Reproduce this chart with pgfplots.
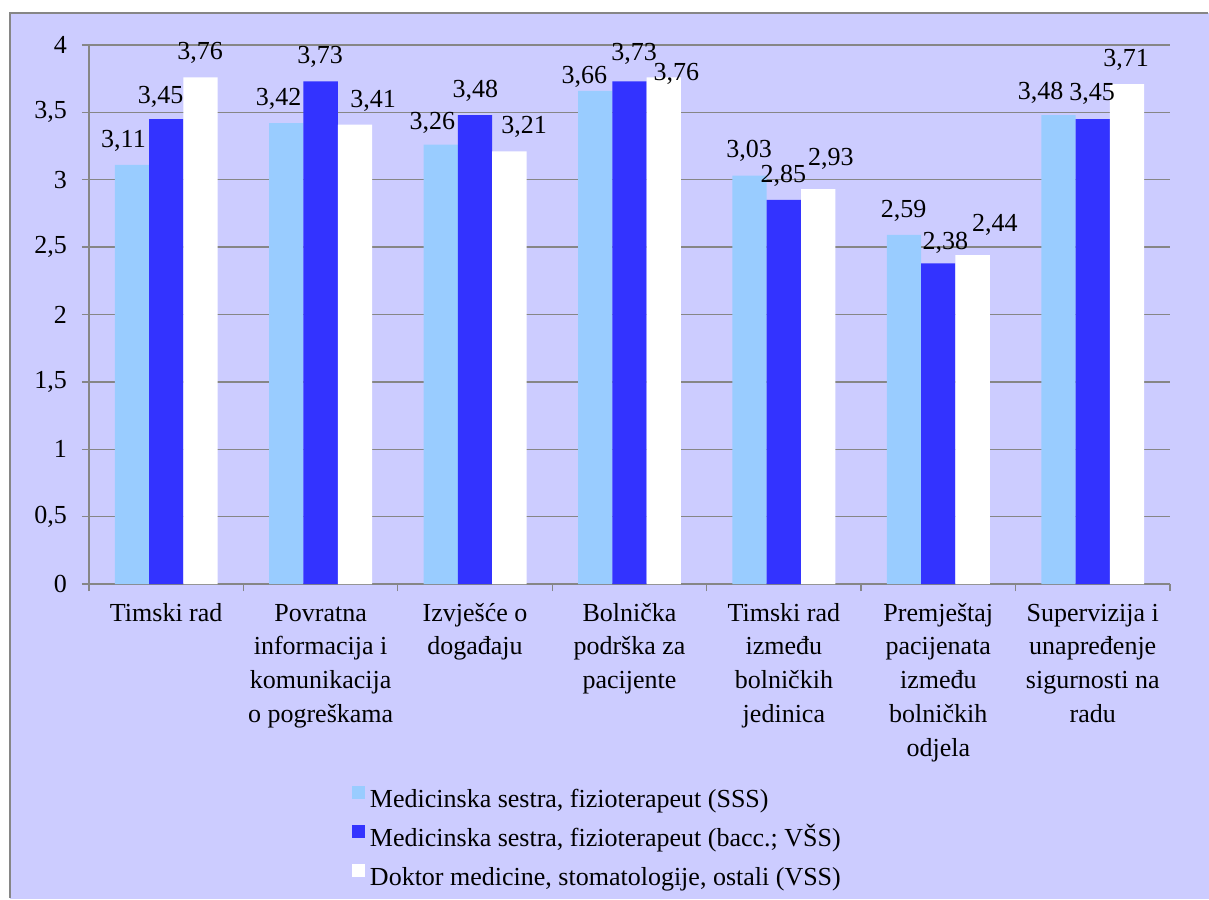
\documentclass[border=0pt]{standalone}
\usepackage{fontspec}
\setmainfont{Liberation Serif}
\usepackage{pgfplots}
\usepackage{pgfplotstable}
\pgfplotsset{compat=1.18}
\definecolor{bgc}{HTML}{CCCCFF}
\definecolor{gc}{HTML}{868686}
\definecolor{sA}{HTML}{99CCFF}
\definecolor{sB}{HTML}{3333FF}
\newcommand\lf{\fontsize{26}{33.8}\selectfont}

\pgfplotstableread{
x y dx dy lab
0 3.11 -8.4 17.9 3,11
1 3.42 -7.8 17.2 3,42
2 3.26 -8.3 15.4 3,26
3 3.66 -10.8 7.5 3,66
4 3.03 -0.4 18.4 3,03
5 2.59 -0.3 17.7 2,59
6 3.48 -17.8 15.1 3,48
}\tA
\pgfplotstableread{
x y dx dy lab
0 3.45 -5.7 15.8 3,45
1 3.73 -0.6 18.1 3,73
2 3.48 0.4 17.8 3,48
3 3.73 4.7 20.7 3,73
4 2.85 -0.4 17.3 2,85
5 2.38 7.1 13.3 2,38
6 3.45 -0.6 19.1 3,45
}\tB
\pgfplotstableread{
x y dx dy lab
0 3.76 -0.5 17.4 3,76
1 3.41 18.1 17.2 3,41
2 3.21 14.8 18.1 3,21
3 3.76 12.5 -3.3 3,76
4 2.93 12.6 23.2 2,93
5 2.44 22.3 23.5 2,44
6 3.71 -0.9 17.4 3,71
}\tC

\begin{document}
\begin{tikzpicture}
\fill[white] (-89pt,584pt) rectangle (1120pt,-315pt);
\fill[bgc] (-79pt,571pt) rectangle (1120pt,-315pt);
\draw[gc, line width=1.3pt] (-79pt,-314pt) -- (-79pt,571pt) -- (1119pt,571pt);
\begin{axis}[
  at={(0pt,0pt)}, anchor=south west,
  width=1081pt, height=539pt, scale only axis,
  xmin=-0.5, xmax=6.5, ymin=0, ymax=4,
  clip=false,
  axis x line*=bottom, axis y line*=left,
  axis line style={gc, line width=1.3pt},
  ybar=0pt, bar width=34.3pt,
  ymajorgrids,
  grid style={gc, line width=1.3pt},
  tick style={gc, line width=1.3pt},
  tick align=outside,
  major tick length=7pt, minor tick length=7pt,
  xtick={0,...,6},
  minor xtick={-0.5,0.5,...,6.5},
  major x tick style={draw=none},
  ytick={0,0.5,...,4},
  yticklabels={0,{0,5},1,{1,5},2,{2,5},3,{3,5},4},
  /pgf/number format/assume math mode=true,
  ticklabel style={font=\lf},
  yticklabel style={anchor=east, inner sep=0pt, xshift=-15pt},
  xticklabel style={align=center, anchor=north, inner sep=0pt, yshift=-6.3pt},
  xticklabels={
    {\strut Timski rad},
    {\strut Povratna\\informacija i\\komunikacija\\o pogreškama},
    {\strut Izvješće o\\događaju},
    {\strut Bolnička\\podrška za\\pacijente},
    {\strut Timski rad\\između\\bolničkih\\jedinica},
    {\strut Premještaj\\pacijenata\\između\\bolničkih\\odjela},
    {\strut Supervizija i\\unapređenje\\sigurnosti na\\radu}},
  nodes near coords,
  point meta=explicit symbolic,
  visualization depends on={\thisrow{dx} \as \dx},
  visualization depends on={\thisrow{dy} \as \dy},
  every node near coord/.append style={font=\lf, text=black, anchor=base, inner sep=0pt, xshift=\dx pt, yshift=\dy pt},
  legend style={at={(0.2433,-0.3748)}, anchor=north west, draw=none, fill=none,
    inner sep=0pt, outer sep=0pt, row sep=11.5pt, column sep=5pt, font=\lf,
    nodes={inner sep=0pt, text height=19pt, text depth=6pt}},
  legend cell align=left,
  legend image code/.code={\fill[#1,draw=none] (0pt,2pt) rectangle (13pt,15pt);},
]
\addplot[fill=sA, draw=none] table[x=x, y=y, meta=lab] {\tA};
\addplot[fill=sB, draw=none] table[x=x, y=y, meta=lab] {\tB};
\addplot[fill=white, draw=none] table[x=x, y=y, meta=lab] {\tC};
\legend{{Medicinska sestra, fizioterapeut (SSS)},
  {Medicinska sestra, fizioterapeut (bacc.; VŠS)},
  {Doktor medicine, stomatologije, ostali (VSS)}}
\end{axis}
\end{tikzpicture}
\end{document}
